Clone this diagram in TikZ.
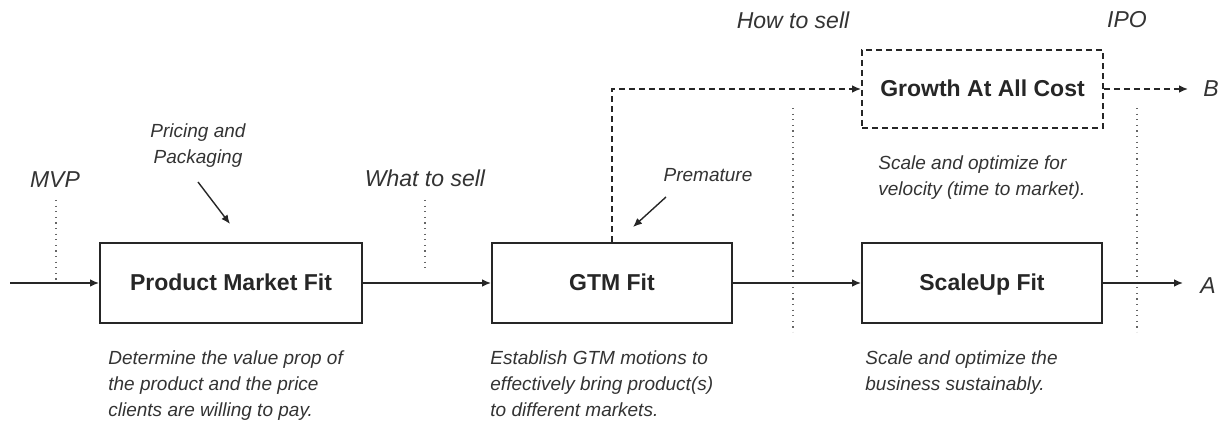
\documentclass[tikz,border=0pt]{standalone}
\usepackage{fontspec}
\setmainfont{Liberation Sans}
\usetikzlibrary{arrows.meta}
\definecolor{txt}{HTML}{333333}
\definecolor{dotc}{HTML}{666666}
\tikzset{
  fitbox/.style={draw=black!85, line width=1pt, minimum height=40pt, inner sep=0pt, text height=8.4pt, text depth=0.4pt, font=\fontsize{11.5}{14}\selectfont\bfseries, text=black!85},
  conn/.style={line width=0.7pt, draw=black!85, -{Latex[length=4.5pt,width=3.8pt]}},
  dconn/.style={conn, dash pattern=on 3pt off 2pt},
  milestone/.style={font=\fontsize{11.5}{14}\selectfont\itshape, text=txt, inner sep=0pt},
  note/.style={font=\fontsize{9.5}{13}\selectfont\itshape, text=txt, inner sep=0pt, align=left},
  marker/.style={draw=dotc, line width=0.7pt, dash pattern=on 0.6pt off 2.2pt},
}
\begin{document}
\begin{tikzpicture}[x=0.5pt,y=-0.5pt]
\useasboundingbox (0,0) rectangle (1221,426);
% boxes
\node[fitbox, minimum width=131pt] (pmf) at (231,283) {Product Market Fit};
\node[fitbox, minimum width=120pt] (gtm) at (612,283) {GTM Fit};
\node[fitbox, minimum width=120pt] (scale) at (982,283) {ScaleUp Fit};
\node[fitbox, minimum width=120.5pt, minimum height=39pt, dash pattern=on 3pt off 2pt] (growth) at (982.5,89) {Growth At All Cost};
% coordinates
\coordinate (start) at (10,283);
\coordinate (aend) at (1183,283);
\coordinate (bend) at (1188,89);
\coordinate (corner) at (612,89);
% end labels
\node[milestone, anchor=west] (A) at (1200,286) {A};
\node[milestone, anchor=west] (B) at (1203,89) {B};
% milestones
\node[milestone] (mvp) at (55,180) {MVP};
\node[milestone] (what) at (425,178) {What to sell};
\node[milestone] (how) at (793,20) {How to sell};
\node[milestone] (ipo) at (1127,20) {IPO};
\coordinate (m1a) at (56,200); \coordinate (m1b) at (56,280);
\coordinate (m2a) at (425,200); \coordinate (m2b) at (425,270);
\coordinate (m3a) at (793,108); \coordinate (m3b) at (793,332);
\coordinate (m4a) at (1137,108); \coordinate (m4b) at (1137,332);
\draw[marker] (m1a) -- (m1b);
\draw[marker] (m2a) -- (m2b);
\draw[marker] (m3a) -- (m3b);
\draw[marker] (m4a) -- (m4b);
% main flow
\draw[conn] (start) -- (pmf.west);
\draw[conn] (pmf.east) -- (gtm.west);
\draw[conn] (gtm.east) -- (scale.west);
\draw[conn] (scale.east) -- (aend);
% dashed flow
\draw[dconn] (gtm.north) -- (corner) -- (growth.west);
\draw[dconn] (growth.east) -- (bend);
% side notes
\node[note, align=center] (pricing) at (198,146) {Pricing and\\Packaging};
\coordinate (p1) at (198,182); \coordinate (p2) at (230,224);
\draw[conn] (p1) -- (p2);
\node[note] (premature) at (708,175) {Premature};
\coordinate (q1) at (666,197); \coordinate (q2) at (633,227);
\draw[conn] (q1) -- (q2);
\node[note, anchor=north west] (velo) at (878,155) {Scale and optimize for\\velocity (time to market).};
% bottom notes
\node[note, anchor=north west] (d1) at (108,350) {Determine the value prop of\\the product and the price\\clients are willing to pay.};
\node[note, anchor=north west] (d2) at (490,350) {Establish GTM motions to\\effectively bring product(s)\\to different markets.};
\node[note, anchor=north west] (d3) at (865,350) {Scale and optimize the\\business sustainably.};
\end{tikzpicture}
\end{document}
